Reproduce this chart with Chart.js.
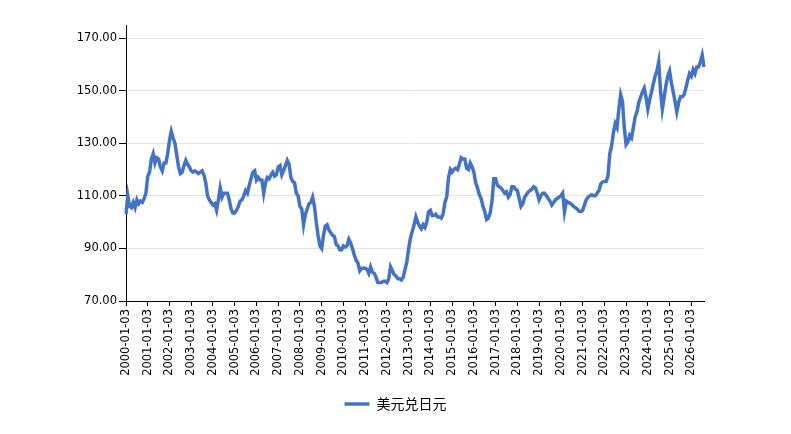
<!DOCTYPE html>
<html>
<head>
<meta charset="utf-8">
<script src="https://cdn.jsdelivr.net/npm/chart.js@4.4.1/dist/chart.umd.min.js"></script>
<style>
  html, body { margin: 0; padding: 0; background: #fff; }
</style>
</head>
<body>
<canvas id="chart" width="791" height="434"></canvas>
<script>
// monthly USD/JPY (one row per year, Jan..Dec)
const firstYear = 2000;
const rates = [
  103, 110, 106, 105.5, 107.5, 105.5, 108.5, 107, 108, 107.5, 109, 111,          // 2000
  117.5, 119, 124, 126, 122.5, 124.5, 124, 121, 119.5, 122.5, 122.5, 126,        // 2001
  131, 134.5, 132, 130, 125.5, 121, 118.5, 119, 121.5, 123.5, 122, 121,          // 2002
  119.5, 119, 119.5, 119, 118.5, 119, 119.5, 118, 115, 110, 108.5, 107.5,        // 2003
  106.5, 107, 104.5, 108.5, 113, 109.5, 111, 111, 111, 108.5, 105, 103.5,        // 2004
  103.5, 104.5, 106, 108, 108.5, 110, 112, 111, 114, 116.5, 119, 119.5,          // 2005
  116, 117, 116, 116, 111, 115, 117, 116.5, 118, 119, 117.5, 118,                // 2006
  121, 121.5, 118, 119.5, 121.5, 123.5, 122, 117, 115.5, 115, 111, 110,          // 2007
  106, 105, 99, 103, 105, 107, 107.5, 109.5, 106, 100, 95, 91,                   // 2008
  90, 95, 98.5, 99, 97, 96, 95, 94.5, 91.5, 91, 89.5, 89.5,                      // 2009
  91, 90.5, 91, 93.5, 92, 90, 87.5, 85.5, 84.5, 81.5, 82.5, 82.5,                // 2010
  82.5, 82, 80.5, 83, 81, 80.5, 79, 77, 77, 77, 77.5, 77.5,                      // 2011
  77, 78.5, 83, 81.5, 80, 79.5, 78.5, 78.5, 78, 79, 82, 85,                      // 2012
  90, 94, 96.5, 99, 102, 100, 98.5, 97.5, 99, 98, 100, 104,                      // 2013
  104.5, 102.5, 102.5, 103, 102, 102, 101.5, 103, 107.5, 109.5, 117, 120,        // 2014
  119, 120, 120.5, 120, 122, 124.5, 124, 124, 120.5, 120, 122.5, 121,            // 2015
  119, 115, 113, 110.5, 109, 106, 104, 101, 101.5, 103.5, 108, 116.5,            // 2016
  116.5, 114, 113.5, 113, 112, 111, 111.5, 109.5, 110.5, 113.5, 113.5, 112.5,    // 2017
  112, 109, 106, 107, 109.5, 110.5, 111.5, 112, 112.5, 113.5, 113, 111,          // 2018
  108.5, 110, 111, 111, 110, 109, 108, 106.5, 107.5, 108.5, 109, 109.5,          // 2019
  110, 111, 104, 108, 107.5, 107.2, 106.8, 106, 105.5, 105, 104.2, 104,          // 2020
  104.5, 106.5, 108.5, 109.5, 110, 110.4, 110, 110, 111, 112, 114.5, 115.3,      // 2021
  115.5, 115.5, 117.5, 126, 129, 134, 137.5, 136, 143, 148.5, 146, 136,          // 2022
  129.5, 130.5, 133, 132, 136, 140, 142, 145.5, 147.5, 149.5, 151, 147.5,        // 2023
  143, 146.5, 149.5, 152.5, 155.5, 157.5, 161, 150, 143, 147.5, 152, 155.5,      // 2024
  157.5, 153, 149.5, 146, 142, 145.5, 147.7, 147.7, 148.5, 151, 154, 156.5,      // 2025
  155.5, 158, 156.5, 159, 159, 161, 163.5, 159                                   // 2026
];
const yTicks = [70, 90, 110, 130, 150, 170];
const seriesName = '美元兑日元';

// one label per month, always on the 3rd
const labels = [];
for (let i = 0; i < rates.length; i++) {
  const year = firstYear + Math.floor(i / 12);
  const month = String(i % 12 + 1).padStart(2, '0');
  labels.push(year + '-' + month + '-03');
}

const tickFont = { family: 'DejaVu Sans', size: 11.5 };

new Chart(document.getElementById('chart').getContext('2d'), {
  type: 'line',
  data: {
    labels: labels,
    datasets: [{
      label: seriesName,
      data: rates,
      borderColor: '#4472C4',
      backgroundColor: '#4472C4',
      borderWidth: 3.5,
      pointRadius: 0,
      tension: 0,
      fill: false
    }]
  },
  options: {
    responsive: false,
    animation: false,
    devicePixelRatio: 1,
    layout: { padding: { left: 0, right: 0, top: 25, bottom: 13 } },
    plugins: {
      legend: {
        position: 'bottom',
        labels: {
          usePointStyle: true,
          pointStyle: 'line',
          pointStyleWidth: 25,
          color: '#000',
          padding: 10,
          font: { family: 'Noto Sans CJK SC', size: 14 }
        }
      },
      tooltip: { enabled: false }
    },
    scales: {
      x: {
        grid: { drawOnChartArea: false, tickLength: 5, tickColor: '#000' },
        border: { color: '#000' },
        ticks: {
          autoSkip: false,
          minRotation: 90,
          maxRotation: 90,
          padding: 3,
          color: '#000',
          font: tickFont,
          callback: function (value) { return this.getLabelForValue(value); }
        },
        // only the January labels get a tick
        afterBuildTicks: scale => {
          scale.ticks = scale.ticks.filter(t => labels[t.value].slice(5, 7) === '01');
        },
        // keep the plot's right edge off the canvas edge, legend stays centred
        afterFit: scale => {
          scale.height = 86;
          scale.paddingRight = 87;
        }
      },
      y: {
        min: 70,
        max: 175,
        grid: { color: '#e4e4e4', tickColor: '#000', tickLength: 7 },
        border: { color: '#000' },
        ticks: {
          padding: 2,
          color: '#000',
          font: tickFont,
          callback: value => value.toFixed(2)
        },
        afterBuildTicks: scale => {
          scale.ticks = yTicks.map(v => ({ value: v }));
        },
        afterFit: scale => { scale.width = 126; }
      }
    }
  }
});
</script>
</body>
</html>
